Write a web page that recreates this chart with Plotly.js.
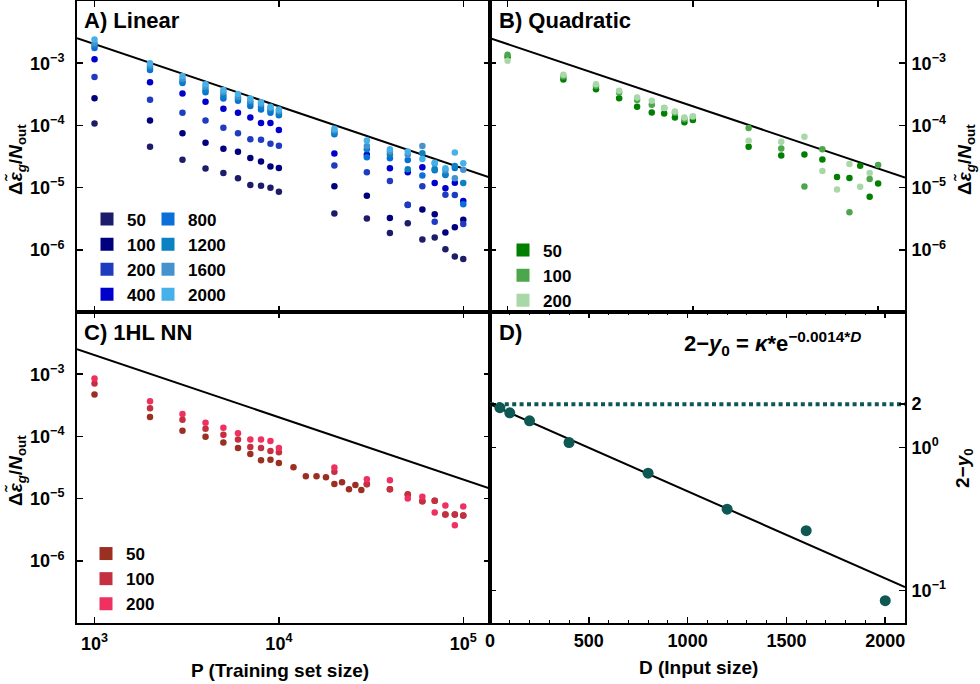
<!DOCTYPE html>
<html><head><meta charset="utf-8">
<script src="https://cdn.plot.ly/plotly-3.0.1.min.js"></script>
<style>html,body{margin:0;padding:0;background:#fff}#chart{width:980px;height:684px}</style>
</head><body><div id="chart"></div>
<script>
// ---------------- DATA ----------------
const P = [1000,2000,3000,4000,5000,6000,7000,8000,9000,10000,20000,30000,40000,50000,60000,70000,80000,90000,100000];

// Panel A (Linear), one array per input size
const linearLabels = ['50','100','200','400','800','1200','1600','2000'];
const lin50   = [1.07e-4,4.53e-5,2.8e-5,2.03e-5,1.71e-5,1.42e-5,1.1e-5,1.07e-5,9.9e-6,8.6e-6,3.83e-6,3.2e-6,1.87e-6,2.68e-6,1.46e-6,1.57e-6,1.02e-6,7.8e-7,7.1e-7];
const lin100  = [2.74e-4,1.2e-4,7.5e-5,5.25e-5,4.2e-5,3.76e-5,3.0e-5,2.63e-5,2.19e-5,2.06e-5,1.05e-5,7.4e-6,3.26e-6,5.3e-6,4.43e-6,3.73e-6,1.89e-6,2.31e-6,3.03e-6];
const lin200  = [6.0e-4,2.58e-4,1.59e-4,1.2e-4,9.2e-5,7.5e-5,6.0e-5,5.86e-5,5.06e-5,4.7e-5,2.26e-5,1.77e-5,1.28e-5,5.27e-6,1.05e-5,2.82e-6,7.7e-6,7.6e-6,2.6e-6];
const lin400  = [1.16e-3,4.95e-4,3.26e-4,2.39e-4,1.85e-4,1.59e-4,1.34e-4,1.09e-4,1.09e-4,8.4e-5,3.52e-5,3.36e-5,2.05e-5,1.77e-5,2.13e-5,1.19e-5,9.8e-6,1.2e-5,6.1e-6];
const lin800  = [1.75e-3,7.8e-4,4.8e-4,3.4e-4,2.7e-4,2.5e-4,2.05e-4,1.8e-4,1.6e-4,1.45e-4,7.2e-5,3.08e-5,2.97e-5,2.79e-5,1.56e-5,1.9e-5,1.6e-5,2.06e-5,5.4e-6];
const lin1200 = [1.95e-3,8.5e-4,5.1e-4,3.7e-4,3.0e-4,2.7e-4,2.3e-4,2.0e-4,1.75e-4,1.55e-4,7.6e-5,4.14e-5,3.44e-5,1.98e-5,3.57e-5,2.0e-5,1.64e-5,2.23e-5,1.19e-5];
const lin1600 = [2.1e-3,9.2e-4,5.6e-4,4.2e-4,3.4e-4,2.9e-4,2.5e-4,2.2e-4,1.9e-4,1.7e-4,8.3e-5,4.68e-5,3.8e-5,3.36e-5,4.68e-5,2.45e-5,1.9e-5,1.42e-5,1.93e-5];
const lin2000 = [2.4e-3,1.0e-3,6.2e-4,4.6e-4,3.7e-4,3.2e-4,2.7e-4,2.35e-4,2.0e-4,1.8e-4,8.8e-5,5.7e-5,4.14e-5,3.8e-5,2.89e-5,2.52e-5,2.05e-5,3.66e-5,2.47e-5];

// Panel B (Quadratic)
const quadLabels = ['50','100','200'];
const quad50  = [1.26e-3,5.46e-4,3.83e-4,2.74e-4,1.99e-4,1.61e-4,1.55e-4,1.34e-4,1.12e-4,1.22e-4,4.55e-5,3.27e-5,3.4e-5,2.82e-5,1.48e-5,1.43e-5,2.25e-5,7.1e-6,1.16e-5];
const quad100 = [1.37e-3,6.1e-4,4.3e-4,3.38e-4,2.55e-4,2.14e-4,1.9e-4,1.6e-4,1.25e-4,1.37e-4,9.06e-5,4.27e-5,1.04e-5,4.15e-5,null,4.0e-6,null,1.37e-5,2.31e-5];
const quad200 = [1.09e-3,6.5e-4,4.6e-4,3.59e-4,2.8e-4,2.48e-4,1.9e-4,1.67e-4,1.34e-4,1.4e-4,5.68e-5,5.47e-5,6.57e-5,1.85e-5,9.3e-6,2.39e-5,1.03e-5,1.71e-5,null];

// Panel C (1HL NN)
const nnLabels = ['50','100','200'];
const P_nn50 = [1000,2000,3000,4000,5000,6000,7000,8000,9000,10000,12000,14000,16000,18000,20000,22000,24000,26000,28000,30000,40000,50000,60000,70000,80000,90000,100000];
const nn50  = [4.7e-4,2.05e-4,1.23e-4,9.9e-5,8.0e-5,6.5e-5,5.19e-5,4.15e-5,4.2e-5,3.75e-5,3.2e-5,2.29e-5,2.29e-5,2.21e-5,1.71e-5,1.84e-5,1.42e-5,1.66e-5,1.38e-5,1.7e-5,1.42e-5,1.15e-5,9.1e-6,9.2e-6,5.55e-6,5.55e-6,5.35e-6];
const nn100 = [7.07e-4,2.83e-4,1.86e-4,1.33e-4,1.06e-4,8.95e-5,6.73e-5,6.49e-5,5.85e-5,5.57e-5,2.69e-5,1.72e-5,1.42e-5,1.18e-5,9.1e-6,9.2e-6,5.55e-6,5.55e-6,5.35e-6];
const nn200 = [8.5e-4,3.67e-4,2.29e-4,1.66e-4,1.38e-4,1.12e-4,8.95e-5,8.95e-5,8.4e-5,6.5e-5,3.16e-5,2.05e-5,1.98e-5,1.0e-5,1.07e-5,6.0e-6,7.75e-6,3.73e-6,7.47e-6];

// Panel D
const D_input = [50,100,200,400,800,1200,1600,2000];
const twoMinusY0 = [1.89,1.74,1.53,1.08,0.66,0.37,0.262,0.085];

// Fits / reference values
const fitCoef = 2.03, fitExp = -1;        // eps ~ fitCoef * P^fitExp
const kappa = 2.0, decay = 0.0014;       // 2 - y0 = kappa * exp(-decay*D)
const asymptote = 2;

// Tick labels
const yTickVals = [1e-6,1e-5,1e-4,1e-3];
const yTickText = ['10<sup>−6</sup>','10<sup>−5</sup>','10<sup>−4</sup>','10<sup>−3</sup>'];
const xTickVals = [1e3,1e4,1e5];
const xTickText = ['10<sup>3</sup>','10<sup>4</sup>','10<sup>5</sup>'];
const dXTickVals = [0,500,1000,1500,2000];
const dYTickVals = [0.1,1,2];
const dYTickText = ['10<sup>−1</sup>','10<sup>0</sup>','2'];

// ---------------- STYLE ----------------
const linColors  = ['#1c1c6b','#00007f','#1f3cc0','#0000cc','#0a6fd6','#0a82c2','#4592cf','#46b1e8'];
const quadColors = ['#007f00','#4ca64c','#a8d7a8'];
const nnColors   = ['#9a2f22','#c4303f','#ee3160'];
const dColor = '#0e5853';
const FAM = 'Liberation Sans, Arial, sans-serif';
const W = 980, H = 684, ML = 77, MR = 75, MT = 1, MB = 61;
const PW = W - ML - MR, PH = H - MT - MB;
const px = x => (x - ML) / PW;
const py = y => (H - MB - y) / PH;
const splitX = px(490);

const xLogRange = [2.905, 5.145];
const yLogRange = [-7, -2];

const linSeries = [lin50,lin100,lin200,lin400,lin800,lin1200,lin1600,lin2000];
const quadSeries = [quad50,quad100,quad200];
const nnSeries = [[P_nn50,nn50],[P,nn100],[P,nn200]];

const traces = [];
function fitTrace(xa, ya) {
  const xs = [Math.pow(10, xLogRange[0]), Math.pow(10, xLogRange[1])];
  return {x: xs, y: xs.map(v => fitCoef * Math.pow(v, fitExp)), xaxis: xa, yaxis: ya,
          mode: 'lines', line: {color: '#000', width: 2}, showlegend: false, hoverinfo: 'skip'};
}
function legendDummy(name, color, xa, ya, lg) {
  return {x: [null], y: [null], xaxis: xa, yaxis: ya, mode: 'markers', name: name,
          marker: {symbol: 'square', size: 13, color: color}, legend: lg, showlegend: true};
}
// A
traces.push(fitTrace('x','y'));
linSeries.forEach((s,i) => traces.push({x: P, y: s, xaxis:'x', yaxis:'y', mode:'markers',
  marker:{size:6.5, color: linColors[i]}, showlegend:false}));
linearLabels.forEach((l,i) => traces.push(legendDummy(l, linColors[i], 'x','y', i < 4 ? 'legend' : 'legend2')));
// B
traces.push(fitTrace('x2','y2'));
quadSeries.forEach((s,i) => traces.push({x: P, y: s, xaxis:'x2', yaxis:'y2', mode:'markers',
  marker:{size:6.5, color: quadColors[i]}, showlegend:false}));
quadLabels.forEach((l,i) => traces.push(legendDummy(l, quadColors[i], 'x2','y2','legend3')));
// C
traces.push(fitTrace('x3','y3'));
nnSeries.forEach((s,i) => traces.push({x: s[0], y: s[1], xaxis:'x3', yaxis:'y3', mode:'markers',
  marker:{size:6.5, color: nnColors[i]}, showlegend:false}));
nnLabels.forEach((l,i) => traces.push(legendDummy(l, nnColors[i], 'x3','y3','legend4')));
// D
const dRange = [0, 2100];
traces.push({x: dRange, y: dRange.map(() => asymptote), xaxis:'x4', yaxis:'y4', mode:'lines',
  line:{color:dColor, width:4, dash:'4px,3.4px'}, showlegend:false, hoverinfo:'skip'});
traces.push({x: dRange, y: dRange.map(d => kappa * Math.exp(-decay * d)), xaxis:'x4', yaxis:'y4', mode:'lines',
  line:{color:'#000', width:2}, showlegend:false, hoverinfo:'skip'});
traces.push({x: D_input, y: twoMinusY0, xaxis:'x4', yaxis:'y4', mode:'markers',
  marker:{size:11, color:dColor}, showlegend:false});

const tickFont = {family: FAM, size: 18, color: '#000', weight: 'bold'};
function ax(extra) {
  return Object.assign({showgrid:false, zeroline:false, showline:true, linecolor:'#000', linewidth:2,
    mirror:'ticks', ticks:'inside', ticklen:6, tickwidth:1.5, tickcolor:'#000', tickfont: tickFont}, extra);
}
const legFont = {family: FAM, size: 17, color: '#000', weight: 'bold'};
function leg(x, y) {
  return {x: px(x), y: py(y), xanchor:'left', yanchor:'top', bgcolor:'rgba(0,0,0,0)', font: legFont,
    itemsizing:'trace', tracegroupgap:0, borderwidth:0};
}
const titleFont = {family: FAM, size: 22, color: '#000', weight: 'bold'};
const labFont = {family: FAM, size: 19, color: '#000', weight: 'bold'};
function ann(text, x, y, font, opts) {
  return Object.assign({text: text, xref:'paper', yref:'paper', x: px(x), y: py(y), showarrow:false,
    xanchor:'left', yanchor:'middle', font: font}, opts || {});
}
const yTitle = 'Δ<i>ε̃</i><sub><i>g</i></sub>/<i>N</i><sub>out</sub>';

const layout = {
  width: W, height: H, margin: {l: ML, r: MR, t: MT, b: MB}, paper_bgcolor:'#fff', plot_bgcolor:'#fff',
  xaxis: ax({domain:[0, splitX], anchor:'y', type:'log', range:xLogRange, tickvals:xTickVals, showticklabels:false}),
  yaxis: ax({domain:[0.5, 1], anchor:'x', type:'log', range:yLogRange, tickvals:yTickVals, ticktext:yTickText, ticklabelstandoff:7}),
  xaxis2: ax({domain:[splitX, 1], anchor:'y2', type:'log', range:xLogRange, tickvals:xTickVals, showticklabels:false}),
  yaxis2: ax({domain:[0.5, 1], anchor:'x2', side:'right', type:'log', range:yLogRange, tickvals:yTickVals, ticktext:yTickText, ticklabelstandoff:1}),
  xaxis3: ax({domain:[0, splitX], anchor:'y3', type:'log', range:xLogRange, tickvals:xTickVals, ticktext:xTickText, ticklabelstandoff:3}),
  yaxis3: ax({domain:[0, 0.5], anchor:'x3', type:'log', range:yLogRange, tickvals:yTickVals, ticktext:yTickText, ticklabelstandoff:7}),
  xaxis4: ax({domain:[splitX, 1], anchor:'y4', range:dRange, tickvals:dXTickVals, ticklabelstandoff:0,
    minor:{dtick:100, ticks:'inside', ticklen:3, tickcolor:'#000', tickwidth:1}}),
  yaxis4: ax({domain:[0, 0.5], anchor:'x4', side:'right', type:'log', range:[-1.226, 0.944], tickvals:dYTickVals, ticktext:dYTickText, ticklabelstandoff:1}),
  legend: leg(87, 201.5),
  legend2: leg(148, 201.5),
  legend3: leg(503, 232.5),
  legend4: leg(86, 536),
  showlegend: true,
  annotations: [
    ann('A) Linear', 82, 20, titleFont),
    ann('B) Quadratic', 497, 20, titleFont),
    ann('C) 1HL NN', 82, 332, titleFont),
    ann('D)', 497, 332, titleFont),
    ann('2−<i>y</i><sub>0</sub> = <i>κ</i>*e<sup>−0.0014*<i>D</i></sup>', 682, 343, {family:FAM, size:22, color:'#000', weight:'bold'}),
    ann(yTitle, 16, 160, labFont, {xanchor:'center', textangle:-90}),
    ann(yTitle, 16, 471, labFont, {xanchor:'center', textangle:-90}),
    ann(yTitle, 965, 160, labFont, {xanchor:'center', textangle:-90}),
    ann('2−<i>y</i><sub>0</sub>', 964, 468, labFont, {xanchor:'center', textangle:-90}),
    ann('P (Training set size)', 280, 670, labFont, {xanchor:'center'}),
    ann('D (Input size)', 698, 667, labFont, {xanchor:'center'})
  ]
};
Plotly.newPlot('chart', traces, layout, {displayModeBar:false, staticPlot:true});
</script></body></html>
